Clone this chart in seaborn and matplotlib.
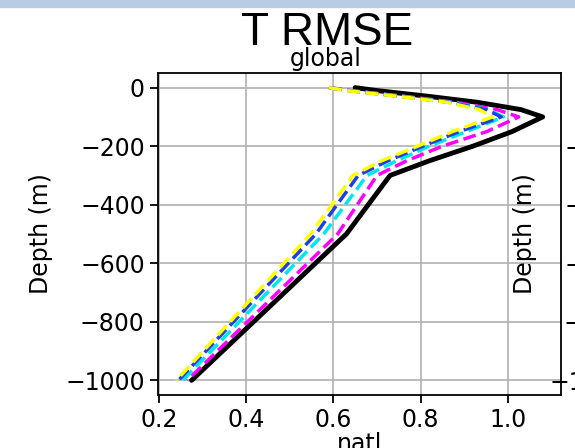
import matplotlib
matplotlib.use("Agg")
import matplotlib.pyplot as plt
import seaborn as sns
import pandas as pd
from matplotlib.patches import Rectangle

# depth levels (m) and RMSE of temperature for each run
depth = [0, -10, -20, -30, -50, -75, -100, -150, -200, -250, -300, -500, -1000]
rmse_black = [0.65, 0.70, 0.76, 0.82, 0.93, 1.03, 1.08, 1.01, 0.92, 0.82, 0.73, 0.63, 0.275]
rmse_magenta = [0.59, 0.64, 0.70, 0.765, 0.88, 0.975, 1.025, 0.952, 0.85, 0.768, 0.70, 0.61, 0.265]
rmse_cyan = [0.59, 0.635, 0.70, 0.76, 0.87, 0.955, 0.99, 0.905, 0.82, 0.745, 0.677, 0.578, 0.255]
rmse_blue = [0.59, 0.635, 0.695, 0.755, 0.865, 0.95, 0.985, 0.889, 0.805, 0.725, 0.657, 0.56, 0.245]
rmse_yellow = [0.59, 0.63, 0.69, 0.75, 0.86, 0.935, 0.965, 0.873, 0.793, 0.71, 0.645, 0.548, 0.24]

runs = ["black", "magenta", "cyan", "blue", "yellow"]
values = [rmse_black, rmse_magenta, rmse_cyan, rmse_blue, rmse_yellow]

df = pd.concat([pd.DataFrame({"rmse": v, "depth": depth, "run": r}) for r, v in zip(runs, values)],
               ignore_index=True)

palette = {"black": "black", "magenta": "#ff00ff", "cyan": "#00e5ee", "blue": "#1f3fe0", "yellow": "#ffff00"}
dashes = {"black": "", "magenta": (3.7, 1.6), "cyan": (3.7, 1.6), "blue": (3.7, 1.6), "yellow": (3.7, 1.6)}
sizes = {"black": 3.5, "magenta": 2.5, "cyan": 2.5, "blue": 2.5, "yellow": 2.5}

sns.set_style("ticks")
plt.rcParams["font.family"] = ["DejaVu Sans"]
plt.rcParams.update({
    "font.size": 17,
    "text.color": "black",
    "axes.labelcolor": "black",
    "xtick.color": "black",
    "ytick.color": "black",
    "axes.linewidth": 1.3,
    "xtick.major.size": 5.5,
    "ytick.major.size": 5.5,
    "xtick.major.width": 1.3,
    "ytick.major.width": 1.3,
    "xtick.major.pad": 4,
    "ytick.major.pad": 4,
    "axes.edgecolor": "black",
})

fig = plt.figure(figsize=(5.75, 4.48), dpi=100)
W, H = 575, 448

# top band of the screenshot
fig.add_artist(Rectangle((0, 1 - 7 / H), 1, 7 / H, transform=fig.transFigure,
                         color="#b8cce4", zorder=0))

ax = fig.add_axes([158 / W, 53 / H, 403 / W, 322 / H])
sns.lineplot(data=df, x="rmse", y="depth", hue="run", style="run", size="run",
             palette=palette, dashes=dashes, sizes=sizes, hue_order=runs,
             sort=False, estimator=None, legend=False, ax=ax)
ax.grid(True, color="#b0b0b0", lw=1.2)
ax.set_axisbelow(True)
ax.set_xticks([0.2, 0.4, 0.6, 0.8, 1.0])
ax.set_yticks([0, -200, -400, -600, -800, -1000])
ax.tick_params(labelsize=17)
ax.set_xlabel("")
ax.set_ylabel("Depth (m)", fontsize=17, labelpad=8.5)
for s in ax.spines.values():
    s.set_visible(True)

# neighbour subplot to the right (mostly outside the crop)
ax2 = fig.add_axes([(158 + 484) / W, 53 / H, 403 / W, 322 / H])
ax2.set_ylim(ax.get_ylim())
ax2.set_yticks([0, -200, -400, -600, -800, -1000])
ax2.set_xticks([])
ax2.tick_params(labelsize=17)
ax2.set_ylabel("Depth (m)", fontsize=17, labelpad=8.5)

fig.text(327 / W, 1 - 45 / H, "T RMSE", ha="center", va="baseline",
         fontsize=33, family=["Liberation Sans", "DejaVu Sans"])
fig.text(326 / W, 1 - 66 / H, "global", ha="center", va="baseline", fontsize=17)
fig.text(360 / W, 1 - 432 / H, "natl", ha="center", va="top", fontsize=17)

fig.savefig("out.png", dpi=100)
